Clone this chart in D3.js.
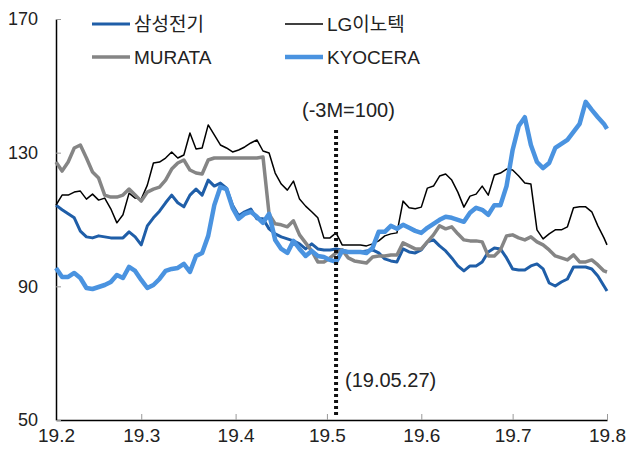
<!DOCTYPE html>
<html>
<head>
<meta charset="utf-8">
<script src="https://cdn.jsdelivr.net/npm/d3@7"></script>
<style>
  body { margin: 0; background: #fff; }
  text { font-family: "Liberation Sans", Arial, "Noto Sans CJK KR", sans-serif; fill: #222; }
</style>
</head>
<body>
<div id="chart"></div>
<script>
"use strict";

// x positions: days since 2019-02-01 (sampled every 2 days)
const days = d3.range(0, 181, 2).concat([181]);

// series values (rebased, -3M = 100)
const samsung = [114.3,112.9,111.7,110.5,106.5,104.8,104.5,105.1,104.8,104.5,104.5,104.5,106.3,104.8,102.4,108.1,
  110.5,112.5,115,117.3,115,113.8,117.3,119.1,117.3,121.8,120,120.9,119.4,114.3,111.1,112.3,113.1,110.2,110.2,
  107.2,105.7,104.8,104.2,103.6,102.7,101.2,102.7,101.2,100.9,100.9,101.2,100.9,100.3,100.3,100.3,100.6,100.9,
  100,98.2,97.6,97.3,101.2,100.3,100,100.9,103.3,103.9,102.1,100.6,98.5,96.1,94.6,96.1,96.1,97.3,100.3,101.5,
  101.2,98.5,95.2,94.9,94.9,96.1,96.7,95.2,91,90.1,91.3,92.2,95.8,95.8,95.8,95.2,93.1,90.1,88.6];

const lgInnotek = [114.3,117.3,117.3,118.2,118.5,116.1,117.6,115.8,116.4,113.2,109,111.4,117.9,116.4,116.1,120.3,
  126.9,127.2,128.4,130.2,128.4,129.3,135.9,131.1,131.4,138.3,135.3,132.3,131.4,130.2,130.8,131.7,132.9,133.8,
  130.5,129.9,123.9,120.6,118.8,121.5,116.1,114,112.3,110.5,104.5,104.5,106,102.4,102.4,102.4,102.4,102.1,102.7,
  103.6,105.1,105.7,106,115.5,113.5,113.2,113.7,119.4,120,123,123.6,121.8,118.2,113.7,117,117.6,120,117.3,123.3,
  123.9,125.1,124.8,123,120.9,120.6,106.9,104.2,105.7,106.9,106.9,107.8,113.5,113.8,113.8,112.3,108.1,104.5,102.4];

const murata = [127.2,124.5,127.2,131.4,132.3,128.4,124.2,122.4,117.3,116.7,116.7,117.3,119.1,117.3,115.5,118.2,
  119.1,119.7,121.8,125.1,126.9,127.8,124.8,123.9,123.6,127.8,128.4,128.4,128.4,128.4,128.4,128.4,128.4,128.4,
  128.7,111.6,108.7,108.4,107.8,109.6,105.4,103,100.6,97.3,97.3,98.5,100,100.9,98.5,97.6,97.3,97,98.8,99.1,99.1,
  99.4,99.4,103,102.1,101.2,101.2,103.3,105.4,108.1,107.2,107.8,105.7,103.9,103.6,103.6,103.3,99.1,99.1,100.9,
  105.1,105.4,104.5,103.9,104.8,103.3,102.4,100.9,99.1,98.5,97.9,99.4,97.3,97.3,97.9,96.4,94.6,94.3];

const kyocera = [95.5,92.8,92.8,94,92.5,89.5,89.2,89.8,90.4,91.3,93.4,92.5,95.8,94.6,91.9,89.5,90.4,92.2,94.6,
  95.2,95.5,96.7,94.3,99.1,100,105.1,114.3,119.7,119.1,113.5,110.2,111.7,112.3,110.8,109,111.7,103.9,101.2,100,
  103.6,101.2,99.1,100.6,99.1,98.8,97.9,97.3,100.6,100.3,100.3,100.3,100,101.5,106.3,106.3,108.1,107.2,108.4,
  107.5,106.6,106,107.5,108.7,109.9,110.8,110.5,109.9,109.3,112,113.5,112.9,111.4,114.3,114.3,120,130.8,138,
  140.6,132.3,127.2,125.4,126.9,131.4,132.6,133.8,136.2,138.6,145.2,142.8,140.6,138.6,137.1];

// axis ticks
const xTickDays = [0, 28, 59, 89, 120, 150, 181];
const xTickLabels = ["19.2", "19.3", "19.4", "19.5", "19.6", "19.7", "19.8"];
const yTicks = [50, 90, 130, 170];
const markerDay = 92;

const series = [
  { name: "삼성전기", values: samsung, color: "#1f5ea8", width: 3 },
  { name: "LG이노텍", values: lgInnotek, color: "#000000", width: 1.5 },
  { name: "MURATA", values: murata, color: "#858585", width: 3.5 },
  { name: "KYOCERA", values: kyocera, color: "#4a93e0", width: 4.5 }
];

const W = 629, H = 452;
const svg = d3.select("#chart").append("svg")
  .attr("width", W).attr("height", H);

const x = d3.scaleLinear().domain([0, 181]).range([56, 607]);
const y = d3.scaleLinear().domain([50, 170]).range([420, 19]);

// x-axis
const xAxis = svg.append("g")
  .attr("transform", "translate(0,420)")
  .call(d3.axisBottom(x)
    .tickValues(xTickDays)
    .tickFormat((d, i) => xTickLabels[i])
    .tickSizeInner(-6).tickSizeOuter(0).tickPadding(9));
xAxis.select(".domain").attr("stroke", "#000").attr("stroke-width", 1.5);
xAxis.selectAll(".tick line").attr("stroke", "#999");
xAxis.selectAll("text").style("font-size", "19px").attr("fill", "#222");

// y-axis
const yAxis = svg.append("g")
  .attr("transform", "translate(56,0)")
  .call(d3.axisLeft(y)
    .tickValues(yTicks)
    .tickSizeInner(-5).tickSizeOuter(0).tickPadding(18));
yAxis.select(".domain").attr("stroke", "#000").attr("stroke-width", 1.5);
yAxis.selectAll(".tick line").attr("stroke", "#999");
yAxis.selectAll("text").style("font-size", "18px").attr("fill", "#222");

// lines
const line = d3.line()
  .x((d, i) => x(days[i]))
  .y(d => y(d));

svg.append("g")
  .selectAll("path")
  .data(series)
  .join("path")
    .attr("fill", "none")
    .attr("stroke", d => d.color)
    .attr("stroke-width", d => d.width)
    .attr("stroke-linejoin", "round")
    .attr("d", d => line(d.values));

// base date marker
svg.append("line")
  .attr("x1", x(markerDay)).attr("x2", x(markerDay))
  .attr("y1", 130).attr("y2", 415)
  .attr("stroke", "#111")
  .attr("stroke-width", 4)
  .attr("stroke-dasharray", "3,3");

svg.append("text")
  .attr("x", 302).attr("y", 117)
  .style("font-size", "20px")
  .text("(-3M=100)");

svg.append("text")
  .attr("x", 345).attr("y", 387)
  .style("font-size", "20px")
  .text("(19.05.27)");

// legend
const legendPos = [[92, 24], [285, 24], [92, 57], [285, 57]];
const legend = svg.append("g")
  .selectAll("g")
  .data(series)
  .join("g")
    .attr("transform", (d, i) => "translate(" + legendPos[i][0] + "," + legendPos[i][1] + ")");

legend.append("line")
  .attr("x1", 0).attr("x2", 38)
  .attr("stroke", d => d.color)
  .attr("stroke-width", d => d.width);

legend.append("text")
  .attr("x", 42).attr("dy", "0.35em")
  .style("font-size", "19px")
  .text(d => d.name);
</script>
</body>
</html>
